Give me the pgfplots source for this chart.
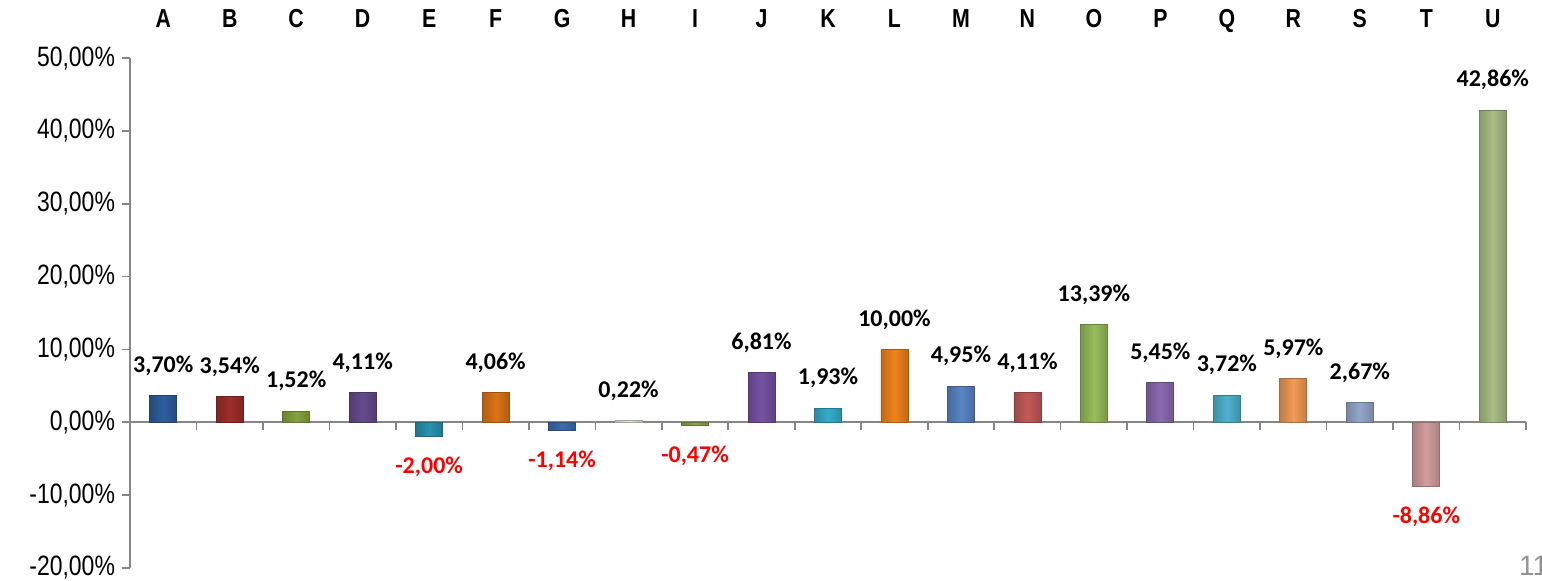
\documentclass[border=0pt]{standalone}
\usepackage{fontspec}
\setmainfont{Liberation Sans}
\newfontfamily\narrowfont[FakeStretch=0.82]{Liberation Sans}
\newfontfamily\labelfont{Carlito}
\usepackage{pgfplots}
\pgfplotsset{compat=1.18}

\definecolor{cA}{HTML}{2F5E9E}
\definecolor{cB}{HTML}{9E2E2B}
\definecolor{cC}{HTML}{86A33F}
\definecolor{cD}{HTML}{664B8C}
\definecolor{cE}{HTML}{2B93B0}
\definecolor{cF}{HTML}{DC7418}
\definecolor{cG}{HTML}{3B6CB0}
\definecolor{cH}{HTML}{E6ECDD}
\definecolor{cI}{HTML}{8DA74A}
\definecolor{cJ}{HTML}{7752A3}
\definecolor{cK}{HTML}{35ADCB}
\definecolor{cL}{HTML}{F0831C}
\definecolor{cM}{HTML}{5985C5}
\definecolor{cN}{HTML}{C35A58}
\definecolor{cO}{HTML}{98BD5A}
\definecolor{cP}{HTML}{8A6BB0}
\definecolor{cQ}{HTML}{4DB3CE}
\definecolor{cR}{HTML}{F39A55}
\definecolor{cS}{HTML}{94A7CB}
\definecolor{cT}{HTML}{D49EA0}
\definecolor{cU}{HTML}{A9BE85}
\definecolor{axgray}{HTML}{868686}

\newcommand{\pbar}[3]{\addplot[left color=#1!80!black, right color=#1!80!black, middle color=#1, draw=#1!70!black, line width=0.4pt,
  every node near coord/.append style={yshift=6.5pt}] coordinates {(#2,#3)};}
\newcommand{\nbar}[3]{\addplot[left color=#1!80!black, right color=#1!80!black, middle color=#1, draw=#1!70!black, line width=0.4pt,
  every node near coord/.append style={yshift=-6.5pt, text=red}] coordinates {(#2,#3)};}

\begin{document}
\begin{tikzpicture}
\useasboundingbox (-65pt,-6pt) rectangle (706pt,284pt);
\begin{axis}[
  scale only axis, width=698pt, height=255pt,
  xmin=-0.5, xmax=20.5, ymin=-20, ymax=50,
  axis x line*=middle, axis y line*=left,
  axis line style={draw=axgray, line width=1pt},
  xtick={-0.5,0.5,...,20.5}, xticklabels={},
  ytick={-20,-10,...,50},
  yticklabels={{-20,00\%},{-10,00\%},{0,00\%},{10,00\%},{20,00\%},{30,00\%},{40,00\%},{50,00\%}},
  tick align=outside, major tick length=4pt,
  tick style={draw=axgray, line width=0.8pt},
  yticklabel style={font=\narrowfont\fontsize{14}{14}\selectfont, text=black},
  ybar, bar width=13.5pt, bar shift=0pt,
  nodes near coords={\pgfmathprintnumber[fixed,fixed zerofill,precision=2,use comma,assume math mode=true]{\pgfplotspointmeta}\%},
  nodes near coords style={font=\labelfont\bfseries\fontsize{12}{12}\selectfont, text=black},
  clip=false,
]
\pbar{cA}{0}{3.70}
\pbar{cB}{1}{3.54}
\pbar{cC}{2}{1.52}
\pbar{cD}{3}{4.11}
\nbar{cE}{4}{-2.00}
\pbar{cF}{5}{4.06}
\nbar{cG}{6}{-1.14}
\pbar{cH}{7}{0.22}
\nbar{cI}{8}{-0.47}
\pbar{cJ}{9}{6.81}
\pbar{cK}{10}{1.93}
\pbar{cL}{11}{10.00}
\pbar{cM}{12}{4.95}
\pbar{cN}{13}{4.11}
\pbar{cO}{14}{13.39}
\pbar{cP}{15}{5.45}
\pbar{cQ}{16}{3.72}
\pbar{cR}{17}{5.97}
\pbar{cS}{18}{2.67}
\nbar{cT}{19}{-8.86}
\pbar{cU}{20}{42.86}
\end{axis}
\begin{axis}[
  scale only axis, width=698pt, height=255pt,
  xmin=-0.5, xmax=20.5, ymin=-20, ymax=50,
  hide y axis, axis x line*=top,
  axis line style={draw=none},
  xtick={0,...,20},
  xticklabels={A,B,C,D,E,F,G,H,I,J,K,L,M,N,O,P,Q,R,S,T,U},
  major tick length=0pt,
  typeset ticklabels with strut,
  xticklabel style={font=\narrowfont\bfseries\fontsize{13}{13}\selectfont, text=black},
  xticklabel shift=8pt,
]
\addplot[draw=none] coordinates {(0,0)};
\end{axis}
\node[anchor=base west, text=gray!85, font=\fontsize{14}{14}\selectfont] at (691pt,-3.5pt) {11};
\end{tikzpicture}
\end{document}
